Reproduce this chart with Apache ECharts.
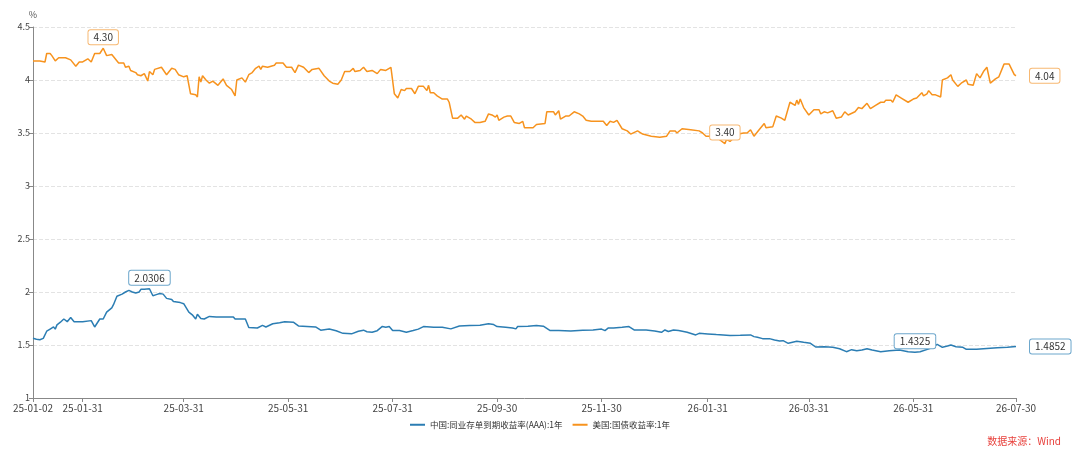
<!DOCTYPE html>
<html>
<head>
<meta charset="utf-8">
<script src="https://cdn.jsdelivr.net/npm/echarts@6/dist/echarts.min.js"></script>
<style>
html, body { margin: 0; padding: 0; background: #fff; }
#main { width: 1080px; height: 455px; }
</style>
</head>
<body>
<div id="main"></div>
<script>
// x axis label dates
var tickDates = ['2025-01-02', '2025-01-31', '2025-03-31', '2025-05-31', '2025-07-31', '2025-09-30',
    '2025-11-30', '2026-01-31', '2026-03-31', '2026-05-31', '2026-07-30'];

var cnName = '中国:同业存单到期收益率(AAA):1年';
var usName = '美国:国债收益率:1年';

// 中国 同业存单 AAA 1年
var cnDates = ['2025-01-02', '2025-01-04', '2025-01-06', '2025-01-08', '2025-01-10', '2025-01-12', '2025-01-14', '2025-01-15',
    '2025-01-16', '2025-01-18', '2025-01-20', '2025-01-22', '2025-01-24', '2025-01-26', '2025-01-31', '2025-02-05',
    '2025-02-07', '2025-02-10', '2025-02-12', '2025-02-14', '2025-02-17', '2025-02-18', '2025-02-20', '2025-02-23',
    '2025-02-25', '2025-02-27', '2025-03-01', '2025-03-03', '2025-03-05', '2025-03-06', '2025-03-08', '2025-03-11',
    '2025-03-13', '2025-03-15', '2025-03-17', '2025-03-19', '2025-03-21', '2025-03-24', '2025-03-25', '2025-03-29',
    '2025-03-31', '2025-04-01', '2025-04-03', '2025-04-05', '2025-04-07', '2025-04-08', '2025-04-10', '2025-04-12',
    '2025-04-15', '2025-04-19', '2025-04-29', '2025-04-30', '2025-05-06', '2025-05-08', '2025-05-13', '2025-05-16',
    '2025-05-18', '2025-05-22', '2025-05-26', '2025-05-29', '2025-05-30', '2025-06-03', '2025-06-06', '2025-06-11',
    '2025-06-16', '2025-06-19', '2025-06-24', '2025-06-28', '2025-07-02', '2025-07-07', '2025-07-11', '2025-07-14',
    '2025-07-16', '2025-07-19', '2025-07-22', '2025-07-25', '2025-07-27', '2025-07-29', '2025-07-31', '2025-08-04',
    '2025-08-08', '2025-08-12', '2025-08-15', '2025-08-18', '2025-08-24', '2025-08-29', '2025-09-03', '2025-09-08',
    '2025-09-14', '2025-09-20', '2025-09-25', '2025-09-28', '2025-09-30', '2025-10-05', '2025-10-09', '2025-10-11',
    '2025-10-12', '2025-10-18', '2025-10-23', '2025-10-27', '2025-10-31', '2025-11-05', '2025-11-12', '2025-11-19',
    '2025-11-25', '2025-11-30', '2025-12-02', '2025-12-04', '2025-12-07', '2025-12-12', '2025-12-16', '2025-12-19',
    '2025-12-26', '2025-12-31', '2026-01-04', '2026-01-06', '2026-01-08', '2026-01-11', '2026-01-14', '2026-01-19',
    '2026-01-24', '2026-01-26', '2026-01-31', '2026-02-05', '2026-02-09', '2026-02-13', '2026-02-19', '2026-02-25',
    '2026-02-27', '2026-03-01', '2026-03-04', '2026-03-08', '2026-03-11', '2026-03-14', '2026-03-16', '2026-03-19',
    '2026-03-24', '2026-03-28', '2026-04-01', '2026-04-04', '2026-04-09', '2026-04-14', '2026-04-18', '2026-04-22',
    '2026-04-25', '2026-04-28', '2026-05-01', '2026-05-04', '2026-05-07', '2026-05-12', '2026-05-17', '2026-05-23',
    '2026-05-28', '2026-06-01', '2026-06-04', '2026-06-10', '2026-06-14', '2026-06-17', '2026-06-20', '2026-06-22',
    '2026-06-25', '2026-06-29', '2026-07-01', '2026-07-07', '2026-07-13', '2026-07-19', '2026-07-25', '2026-07-30'];
var cnYield = [1.5630, 1.5540, 1.5500, 1.5630, 1.6300, 1.6500, 1.6700, 1.6500,
    1.6900, 1.7150, 1.7450, 1.7200, 1.7600, 1.7200, 1.7200, 1.7300,
    1.6700, 1.7450, 1.7450, 1.8100, 1.8500, 1.8800, 1.9600, 1.9800,
    2.0000, 2.0150, 2.0000, 1.9900, 2.0000, 2.0250, 2.0270, 2.0306,
    1.9650, 1.9750, 1.9850, 1.9800, 1.9400, 1.9300, 1.9100, 1.9000,
    1.8900, 1.9000, 1.8100, 1.7850, 1.7450, 1.7900, 1.7500, 1.7450,
    1.7700, 1.7650, 1.7650, 1.7450, 1.7450, 1.6650, 1.6600, 1.6850,
    1.6700, 1.7000, 1.7100, 1.7200, 1.7050, 1.7150, 1.6800, 1.6750,
    1.6700, 1.6400, 1.6500, 1.6350, 1.6100, 1.6050, 1.6300, 1.6400,
    1.6250, 1.6200, 1.6350, 1.6750, 1.6680, 1.6750, 1.6360, 1.6360,
    1.6200, 1.6360, 1.6500, 1.6740, 1.6680, 1.6680, 1.6520, 1.6800,
    1.6840, 1.6870, 1.7000, 1.6930, 1.6740, 1.6680, 1.6610, 1.6520,
    1.6740, 1.6770, 1.6840, 1.6770, 1.6360, 1.6360, 1.6330, 1.6400,
    1.6420, 1.6500, 1.6360, 1.6610, 1.6610, 1.6680, 1.6740, 1.6420,
    1.6420, 1.6330, 1.6200, 1.6420, 1.6270, 1.6420, 1.6360, 1.6200,
    1.5950, 1.6100, 1.6040, 1.5980, 1.5950, 1.5900, 1.5920, 1.5950,
    1.5790, 1.5730, 1.5600, 1.5600, 1.5470, 1.5380, 1.5410, 1.5160,
    1.5350, 1.5250, 1.5160, 1.4810, 1.4840, 1.4780, 1.4650, 1.4370,
    1.4560, 1.4460, 1.4530, 1.4650, 1.4530, 1.4370, 1.4460, 1.4530,
    1.4360, 1.4325, 1.4370, 1.4680, 1.5060, 1.4780, 1.4900, 1.5000,
    1.4840, 1.4780, 1.4590, 1.4590, 1.4680, 1.4750, 1.4780, 1.4852];

// 美国 国债 1年
var usDates = ['2025-01-02', '2025-01-06', '2025-01-07', '2025-01-09', '2025-01-10', '2025-01-12', '2025-01-13', '2025-01-15',
    '2025-01-17', '2025-01-21', '2025-01-24', '2025-01-27', '2025-01-29', '2025-01-31', '2025-02-03', '2025-02-05',
    '2025-02-07', '2025-02-10', '2025-02-12', '2025-02-14', '2025-02-17', '2025-02-19', '2025-02-21', '2025-02-24',
    '2025-02-25', '2025-02-27', '2025-02-28', '2025-03-03', '2025-03-04', '2025-03-06', '2025-03-08', '2025-03-10',
    '2025-03-11', '2025-03-13', '2025-03-14', '2025-03-18', '2025-03-21', '2025-03-24', '2025-03-26', '2025-03-28',
    '2025-03-31', '2025-04-02', '2025-04-04', '2025-04-07', '2025-04-08', '2025-04-09', '2025-04-10', '2025-04-11',
    '2025-04-13', '2025-04-15', '2025-04-17', '2025-04-20', '2025-04-23', '2025-04-25', '2025-04-28', '2025-04-30',
    '2025-05-01', '2025-05-04', '2025-05-06', '2025-05-08', '2025-05-10', '2025-05-12', '2025-05-14', '2025-05-15',
    '2025-05-16', '2025-05-19', '2025-05-23', '2025-05-24', '2025-05-28', '2025-05-30', '2025-06-02', '2025-06-04',
    '2025-06-06', '2025-06-09', '2025-06-12', '2025-06-14', '2025-06-18', '2025-06-21', '2025-06-24', '2025-06-26',
    '2025-06-29', '2025-07-01', '2025-07-03', '2025-07-06', '2025-07-08', '2025-07-09', '2025-07-12', '2025-07-14',
    '2025-07-16', '2025-07-19', '2025-07-22', '2025-07-24', '2025-07-27', '2025-07-30', '2025-07-31', '2025-08-01',
    '2025-08-03', '2025-08-04', '2025-08-05', '2025-08-07', '2025-08-08', '2025-08-11', '2025-08-13', '2025-08-15',
    '2025-08-18', '2025-08-20', '2025-08-21', '2025-08-22', '2025-08-24', '2025-08-26', '2025-08-27', '2025-08-29',
    '2025-09-01', '2025-09-02', '2025-09-04', '2025-09-07', '2025-09-09', '2025-09-11', '2025-09-12', '2025-09-15',
    '2025-09-17', '2025-09-20', '2025-09-23', '2025-09-25', '2025-09-27', '2025-09-29', '2025-09-30', '2025-10-01',
    '2025-10-04', '2025-10-06', '2025-10-08', '2025-10-10', '2025-10-13', '2025-10-15', '2025-10-16', '2025-10-17',
    '2025-10-21', '2025-10-23', '2025-10-28', '2025-10-29', '2025-11-02', '2025-11-03', '2025-11-05', '2025-11-06',
    '2025-11-09', '2025-11-11', '2025-11-14', '2025-11-17', '2025-11-19', '2025-11-21', '2025-11-24', '2025-11-27',
    '2025-12-01', '2025-12-03', '2025-12-05', '2025-12-07', '2025-12-09', '2025-12-12', '2025-12-15', '2025-12-17',
    '2025-12-21', '2025-12-24', '2025-12-29', '2026-01-03', '2026-01-07', '2026-01-09', '2026-01-12', '2026-01-13',
    '2026-01-16', '2026-01-21', '2026-01-26', '2026-01-28', '2026-01-30', '2026-02-02', '2026-02-05', '2026-02-10',
    '2026-02-11', '2026-02-13', '2026-02-15', '2026-02-18', '2026-02-21', '2026-02-23', '2026-02-25', '2026-02-27',
    '2026-03-02', '2026-03-05', '2026-03-06', '2026-03-10', '2026-03-12', '2026-03-15', '2026-03-17', '2026-03-20',
    '2026-03-23', '2026-03-24', '2026-03-25', '2026-03-26', '2026-03-28', '2026-03-31', '2026-04-03', '2026-04-06',
    '2026-04-07', '2026-04-09', '2026-04-11', '2026-04-14', '2026-04-16', '2026-04-19', '2026-04-21', '2026-04-23',
    '2026-04-27', '2026-04-29', '2026-05-01', '2026-05-04', '2026-05-06', '2026-05-09', '2026-05-12', '2026-05-14',
    '2026-05-15', '2026-05-18', '2026-05-19', '2026-05-21', '2026-05-24', '2026-05-28', '2026-05-31', '2026-06-02',
    '2026-06-03', '2026-06-05', '2026-06-06', '2026-06-08', '2026-06-09', '2026-06-11', '2026-06-13', '2026-06-16',
    '2026-06-17', '2026-06-20', '2026-06-22', '2026-06-23', '2026-06-26', '2026-06-28', '2026-07-01', '2026-07-02',
    '2026-07-05', '2026-07-07', '2026-07-09', '2026-07-11', '2026-07-13', '2026-07-15', '2026-07-18', '2026-07-20',
    '2026-07-23', '2026-07-26', '2026-07-29', '2026-07-30'];
var usYield = [4.18, 4.18, 4.19, 4.17, 4.25, 4.25, 4.23, 4.18,
    4.21, 4.21, 4.19, 4.13, 4.17, 4.17, 4.20, 4.17,
    4.25, 4.25, 4.30, 4.23, 4.24, 4.20, 4.16, 4.16,
    4.12, 4.13, 4.09, 4.07, 4.05, 4.04, 4.06, 3.99,
    4.08, 4.05, 4.10, 4.12, 4.05, 4.11, 4.10, 4.05,
    4.03, 4.04, 3.87, 3.86, 3.84, 4.03, 3.98, 4.04,
    4.00, 3.97, 3.99, 3.95, 4.01, 3.95, 3.91, 3.85,
    4.00, 4.02, 3.98, 4.05, 4.07, 4.11, 4.13, 4.10,
    4.13, 4.12, 4.14, 4.16, 4.16, 4.12, 4.12, 4.07,
    4.14, 4.12, 4.07, 4.10, 4.11, 4.04, 3.99, 3.97,
    3.96, 4.00, 4.08, 4.08, 4.11, 4.08, 4.09, 4.12,
    4.08, 4.09, 4.06, 4.10, 4.09, 4.12, 4.11, 3.87,
    3.83, 3.82, 3.91, 3.90, 3.92, 3.92, 3.87, 3.94,
    3.94, 3.90, 3.95, 3.88, 3.88, 3.85, 3.85, 3.82,
    3.82, 3.79, 3.64, 3.64, 3.67, 3.63, 3.66, 3.63,
    3.60, 3.60, 3.61, 3.68, 3.67, 3.65, 3.67, 3.62,
    3.65, 3.66, 3.66, 3.60, 3.59, 3.61, 3.55, 3.56,
    3.55, 3.58, 3.59, 3.70, 3.70, 3.67, 3.71, 3.63,
    3.66, 3.66, 3.70, 3.68, 3.66, 3.62, 3.61, 3.61,
    3.61, 3.57, 3.61, 3.60, 3.62, 3.54, 3.52, 3.49,
    3.52, 3.49, 3.47, 3.46, 3.47, 3.52, 3.52, 3.50,
    3.54, 3.53, 3.52, 3.50, 3.47, 3.47, 3.46, 3.40,
    3.44, 3.42, 3.45, 3.49, 3.50, 3.50, 3.53, 3.47,
    3.53, 3.59, 3.55, 3.56, 3.66, 3.64, 3.62, 3.79,
    3.76, 3.81, 3.77, 3.82, 3.74, 3.67, 3.72, 3.72,
    3.68, 3.70, 3.69, 3.71, 3.64, 3.65, 3.70, 3.67,
    3.70, 3.74, 3.73, 3.78, 3.73, 3.76, 3.79, 3.79,
    3.81, 3.81, 3.79, 3.86, 3.83, 3.79, 3.82, 3.83,
    3.82, 3.88, 3.85, 3.87, 3.90, 3.86, 3.86, 3.84,
    4.00, 4.02, 4.05, 4.00, 3.94, 3.97, 4.00, 3.96,
    3.95, 4.06, 4.02, 4.08, 4.12, 3.97, 4.01, 4.03,
    4.15, 4.15, 4.05, 4.04];

var cnColor = '#2b7db3';
var usColor = '#f7931e';
var fontFamily = '"Noto Sans CJK SC", "Open Sans", sans-serif';

function toTime(s) {
    var p = s.split('-');
    return new Date(+p[0], +p[1] - 1, +p[2]).getTime();
}

function pad(n) {
    return n < 10 ? '0' + n : '' + n;
}

function fmtDate(v) {
    var d = new Date(v);
    return pad(d.getFullYear() % 100) + '-' + pad(d.getMonth() + 1) + '-' + pad(d.getDate());
}

function pairs(dates, values) {
    return dates.map(function (d, i) {
        return [toTime(d), values[i]];
    });
}

function tagLabel(border, digits) {
    return {
        show: true,
        color: '#333',
        fontSize: 10,
        fontFamily: fontFamily,
        backgroundColor: '#fff',
        borderColor: border,
        borderWidth: 1,
        borderRadius: 2,
        padding: [2, 5, 2, 5],
        formatter: function (p) {
            var v = Array.isArray(p.value) ? p.value[1] : p.value;
            return (+v).toFixed(digits);
        }
    };
}

function makeSeries(name, color, border, digits, data) {
    var mpLabel = tagLabel(border, digits);
    mpLabel.position = 'top';
    mpLabel.distance = 4;
    var endLabel = tagLabel(border, digits);
    endLabel.distance = 14;
    return {
        name: name,
        type: 'line',
        showSymbol: false,
        symbol: 'none',
        data: data,
        lineStyle: { color: color, width: 1.5 },
        itemStyle: { color: color },
        endLabel: endLabel,
        markPoint: {
            symbol: 'circle',
            symbolSize: 0,
            label: mpLabel,
            data: [
                { type: 'max', valueDim: 'y' },
                { type: 'min', valueDim: 'y' }
            ]
        }
    };
}

var tickTimes = tickDates.map(toTime);

var chartDom = document.getElementById('main');
var myChart = echarts.init(chartDom);
var option;

option = {
    animation: false,
    textStyle: { fontFamily: fontFamily },
    title: {
        text: '数据来源：Wind',
        right: 14,
        bottom: 4,
        textStyle: { color: '#e8413c', fontSize: 10, fontWeight: 'normal', fontFamily: fontFamily }
    },
    legend: {
        bottom: 21,
        left: 'center',
        icon: 'rect',
        itemWidth: 15,
        itemHeight: 2,
        itemGap: 10,
        textStyle: { color: '#333', fontSize: 8.5, fontFamily: fontFamily },
        data: [cnName, usName]
    },
    grid: {
        left: 33,
        right: 64,
        top: 27,
        bottom: 57
    },
    xAxis: {
        type: 'value',
        min: tickTimes[0],
        max: tickTimes[tickTimes.length - 1],
        axisLine: { lineStyle: { color: '#888' } },
        axisTick: { customValues: tickTimes, length: 4, lineStyle: { color: '#888' } },
        axisLabel: {
            customValues: tickTimes,
            color: '#444',
            fontSize: 10,
            margin: 5,
            formatter: function (v) { return fmtDate(v); }
        },
        splitLine: { show: false }
    },
    yAxis: {
        type: 'value',
        name: '%',
        nameGap: 8,
        nameTextStyle: { color: '#555', fontSize: 9, align: 'center' },
        min: 1,
        max: 4.5,
        interval: 0.5,
        axisLine: { show: true, lineStyle: { color: '#888' } },
        axisTick: { show: true, length: 4, lineStyle: { color: '#888' } },
        axisLabel: { color: '#444', fontSize: 9, margin: 3 },
        splitLine: { lineStyle: { color: '#e3e3e3', type: 'dashed' } }
    },
    series: [
        makeSeries(cnName, cnColor, '#6da7cc', 4, pairs(cnDates, cnYield)),
        makeSeries(usName, usColor, '#f7b872', 2, pairs(usDates, usYield))
    ]
};

option && myChart.setOption(option);
</script>
</body>
</html>
